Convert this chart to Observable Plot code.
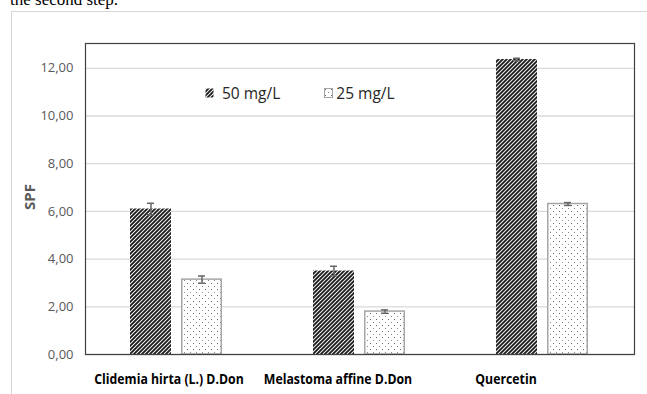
<!DOCTYPE html>
<html><head><meta charset="utf-8">
<script src="https://cdn.jsdelivr.net/npm/d3@7"></script>
<script src="https://cdn.jsdelivr.net/npm/@observablehq/plot@0.6"></script>
<style>
html,body{margin:0;padding:0;background:#fff;overflow:hidden;width:647px;height:394px;}
#wrap{position:relative;width:647px;height:394px;overflow:hidden;}
#caption{position:absolute;left:10px;top:-10px;font-family:"Liberation Serif","Times New Roman",serif;font-size:17px;color:#000;white-space:nowrap;}
#box{position:absolute;left:11px;top:11px;width:700px;height:450px;border:1px solid #d6d6d6;}
#chart{position:absolute;left:0;top:0;}
#legend{position:absolute;left:205px;top:82px;display:flex;align-items:center;font-family:"Open Sans",sans-serif;font-size:15.5px;color:#262626;white-space:nowrap;}
#legend .item{display:flex;align-items:center;}
#ylabel{position:absolute;left:29px;top:197px;transform:translate(-50%,-50%) rotate(-90deg);font-family:"Open Sans",sans-serif;font-weight:bold;font-size:15px;color:#595959;white-space:nowrap;}
</style></head>
<body>
<svg width="0" height="0" style="position:absolute">
  <defs>
    <pattern id="hatch" patternUnits="userSpaceOnUse" width="4" height="4">
      <rect width="4" height="4" fill="#f4f4f4"/>
      <path d="M-1,1 l2,-2 M0,4 l4,-4 M3,5 l2,-2" stroke="#1a1a1a" stroke-width="1.8"/>
    </pattern>
    <pattern id="dots" patternUnits="userSpaceOnUse" width="6" height="6">
      <rect width="6" height="6" fill="#fff"/>
      <rect x="1" y="1" width="1" height="1" fill="#666"/>
      <rect x="4" y="4" width="1" height="1" fill="#888"/>
    </pattern>
  </defs>
</svg>
<div id="wrap">
  <div id="caption">the second step.</div>
  <div id="box"></div>
  <div id="chart"></div>
  <div id="ylabel"></div>
  <div id="legend"></div>
</div>
<script>
const categories = ["Clidemia hirta (L.) D.Don", "Melastoma affine D.Don", "Quercetin"];
const series = ["50 mg/L", "25 mg/L"];
const spf50 = [6.10, 3.50, 12.37];
const spf25 = [3.14, 1.80, 6.31];
const err50 = [0.24, 0.20, 0.05];
const err25 = [0.15, 0.07, 0.06];
const yTicks = [0, 2, 4, 6, 8, 10, 12];
const yLabel = "SPF";

const data = categories.flatMap((c, i) => [
  {cat: c, s: series[0], v: spf50[i], e: err50[i]},
  {cat: c, s: series[1], v: spf25[i], e: err25[i]}
]);
const d50 = data.filter(d => d.s === series[0]);
const d25 = data.filter(d => d.s === series[1]);
const fmt = v => d3.format(".2f")(v).replace(".", ",");

// the reference's category labels sit progressively left of their bar groups
const labelShift = [-8, -22, -37];
const fxLabels = categories.map((c, i) =>
  Plot.text([c], {fx: d => d, text: d => d, frameAnchor: "bottom", lineAnchor: "top",
    dy: 19, dx: labelShift[i], fontWeight: "bold", fontSize: 15, fill: "#000",
    className: "catlabel"}));

const chart = Plot.plot({
  width: 647, height: 394,
  marginLeft: 85, marginRight: 13, marginTop: 43, marginBottom: 40,
  style: {fontFamily: "Open Sans", background: "transparent", overflow: "visible"},
  fx: {domain: categories, padding: 0, label: null, axis: null},
  x: {domain: series, paddingInner: 0.192, paddingOuter: 0.856, axis: null},
  y: {domain: [0, 13.04], label: null},
  marks: [
    Plot.gridY(yTicks, {stroke: "#d9d9d9", strokeOpacity: 1, strokeWidth: 1.3}),
    Plot.barY(d50, {fx: "cat", x: "s", y: "v", fill: "url(#hatch)"}),
    Plot.barY(d25, {fx: "cat", x: "s", y: "v", fill: "url(#dots)", stroke: "#a6a6a6", strokeWidth: 1.5, insetLeft: 0.75, insetRight: 0.75}),
    Plot.ruleX(data, {fx: "cat", x: "s", y1: d => d.v - d.e, y2: d => d.v + d.e, stroke: "#666", strokeWidth: 1.5}),
    Plot.tickY(data, {fx: "cat", x: "s", y: d => d.v + d.e, stroke: "#666", strokeWidth: 1.5, insetLeft: 17, insetRight: 17}),
    Plot.tickY(data, {fx: "cat", x: "s", y: d => d.v - d.e, stroke: "#666", strokeWidth: 1.5, insetLeft: 17, insetRight: 17}),
    Plot.axisY(yTicks, {tickSize: 0, tickPadding: 12, tickFormat: fmt, fontSize: 13, fill: "#595959", label: null}),
    ...fxLabels,
    Plot.frame({facet: "super", stroke: "#404040", strokeWidth: 1.2})
  ]
});
document.getElementById("chart").appendChild(chart);
// condense the bold category labels horizontally (narrow font in the reference)
chart.querySelectorAll("g.catlabel text").forEach(t => {
  const tr = t.getAttribute("transform") || "";
  t.setAttribute("transform", (tr + " scale(0.82,1)").trim());
});
document.getElementById("ylabel").textContent = yLabel;

const legend = document.getElementById("legend");
const fills = ["url(#hatch)", "url(#dots)"];
const gaps = [8, 3];
series.forEach((s, i) => {
  const item = document.createElement("div");
  item.className = "item";
  if (i > 0) item.style.marginLeft = "44px";
  item.innerHTML = `<svg width="9" height="10" style="margin-right:${gaps[i]}px"><rect x="0.5" y="0.5" width="8" height="9" fill="${fills[i]}" stroke="${i ? '#a6a6a6' : 'none'}"/></svg><span>${s}</span>`;
  legend.appendChild(item);
});
</script>
</body></html>
